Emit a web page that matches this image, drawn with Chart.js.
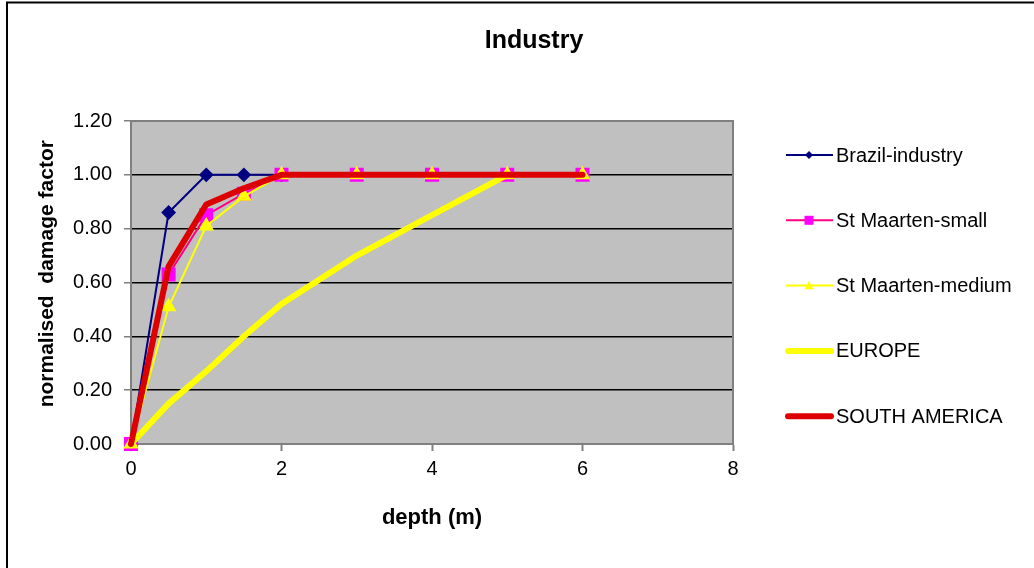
<!DOCTYPE html>
<html>
<head>
<meta charset="utf-8">
<script src="https://cdn.jsdelivr.net/npm/chart.js@4.4.1/dist/chart.umd.min.js"></script>
<style>
  html, body { margin: 0; padding: 0; background: #fff; }
  #wrap { width: 1034px; height: 568px; }
</style>
</head>
<body>
<div id="wrap"><canvas id="industryChart" width="1034" height="568"></canvas></div>
<script>
const chartTitle = 'Industry';
const depth = [0, 0.5, 1, 1.5, 2, 3, 4, 5, 6];
const brazilIndustry  = [0, 0.86, 1.00, 1.00, 1.00, null, null, null, null];
const stMaartenSmall  = [0, 0.63, 0.85, 0.93, 1.00, 1.00, 1.00, 1.00, 1.00];
const stMaartenMedium = [0, 0.51, 0.81, 0.92, 1.00, 1.00, 1.00, 1.00, 1.00];
const europe          = [0, 0.15, 0.27, 0.40, 0.52, 0.70, 0.85, 1.00, null];
const southAmerica    = [0, 0.66, 0.89, 0.95, 1.00, 1.00, 1.00, 1.00, 1.00];

const FONT = '"Liberation Sans", Arial, sans-serif';

const toPoints = vals => vals.map((v, i) => ({ x: depth[i], y: v })).filter(p => p.y !== null);

// little marker painter for the legend
function marker(ctx, style, x, y, r, fill) {
  ctx.save();
  ctx.fillStyle = fill;
  ctx.beginPath();
  if (style === 'rectRot') {
    ctx.moveTo(x, y - r); ctx.lineTo(x + r, y); ctx.lineTo(x, y + r); ctx.lineTo(x - r, y);
  } else if (style === 'rect') {
    ctx.rect(x - r, y - r, 2 * r, 2 * r);
  } else if (style === 'triangle') {
    ctx.moveTo(x, y - r); ctx.lineTo(x + r, y + r * 0.8); ctx.lineTo(x - r, y + r * 0.8);
  }
  ctx.closePath();
  ctx.fill();
  ctx.restore();
}

const excelLook = {
  id: 'excelLook',
  beforeDraw(chart) {
    const { ctx, chartArea: a } = chart;
    ctx.save();
    ctx.fillStyle = '#fff';
    ctx.fillRect(0, 0, chart.width, chart.height);
    ctx.fillStyle = '#C0C0C0';
    ctx.fillRect(a.left, a.top, a.right - a.left, a.bottom - a.top);
    ctx.restore();
  },
  beforeDatasetsDraw(chart) {
    const { ctx, chartArea: a } = chart;
    ctx.save();
    ctx.strokeStyle = '#808080';
    ctx.lineWidth = 2;
    ctx.strokeRect(a.left, a.top, a.right - a.left, a.bottom - a.top);
    ctx.restore();
  },
  afterDraw(chart) {
    const ctx = chart.ctx;
    ctx.save();
    // outer chart border
    ctx.strokeStyle = '#000';
    ctx.lineWidth = 2;
    ctx.beginPath();
    ctx.moveTo(7, chart.height);
    ctx.lineTo(7, 2.5);
    ctx.lineTo(chart.width, 2.5);
    ctx.stroke();

    // title
    ctx.fillStyle = '#000';
    ctx.font = 'bold 25px ' + FONT;
    ctx.textAlign = 'center';
    ctx.textBaseline = 'middle';
    ctx.fillText(chartTitle, 534, 41);

    // legend
    ctx.font = '20px ' + FONT;
    ctx.textAlign = 'left';
    chart.data.datasets.forEach((ds, i) => {
      const y = 155 + i * 65.3;
      ctx.strokeStyle = ds.borderColor;
      ctx.lineWidth = ds.borderWidth;
      ctx.lineCap = ds.borderWidth > 3 ? 'round' : 'butt';
      ctx.beginPath();
      ctx.moveTo(ds.borderWidth > 3 ? 788 : 786, y);
      ctx.lineTo(ds.borderWidth > 3 ? 831 : 833, y);
      ctx.stroke();
      if (ds.pointRadius > 0) {
        marker(ctx, ds.pointStyle, 809, y, ds.legendMarker, ds.pointBackgroundColor);
      }
      ctx.fillStyle = '#000';
      ctx.fillText(ds.label, 836, y + 1);
    });
    ctx.restore();
  }
};

const datasets = [
  {
    label: 'Brazil-industry',
    data: toPoints(brazilIndustry),
    borderColor: '#000080',
    backgroundColor: '#000080',
    pointBackgroundColor: '#000080',
    pointBorderColor: '#000080',
    borderWidth: 2,
    pointStyle: 'rectRot',
    pointRadius: 6,
    legendMarker: 4,
    order: 5
  },
  {
    label: 'St Maarten-small',
    data: toPoints(stMaartenSmall),
    borderColor: '#FF0080',
    backgroundColor: '#FF00FF',
    pointBackgroundColor: '#FF00FF',
    pointBorderColor: '#FF00FF',
    borderWidth: 2,
    pointStyle: 'rect',
    pointRadius: 8.5,
    legendMarker: 4.5,
    order: 4
  },
  {
    label: 'St Maarten-medium',
    data: toPoints(stMaartenMedium),
    borderColor: '#FFFF00',
    backgroundColor: '#FFFF00',
    pointBackgroundColor: '#FFFF00',
    pointBorderColor: '#FFFF00',
    borderWidth: 2,
    pointStyle: 'triangle',
    pointRadius: 7,
    legendMarker: 4.5,
    order: 3
  },
  {
    label: 'EUROPE',
    data: toPoints(europe),
    borderColor: '#FFFF00',
    backgroundColor: '#FFFF00',
    borderWidth: 6,
    pointRadius: 0,
    borderJoinStyle: 'round',
    borderCapStyle: 'round',
    order: 2
  },
  {
    label: 'SOUTH AMERICA',
    data: toPoints(southAmerica),
    borderColor: '#DD0000',
    backgroundColor: '#DD0000',
    borderWidth: 6,
    pointRadius: 0,
    borderJoinStyle: 'round',
    borderCapStyle: 'round',
    order: 1
  }
];
datasets.forEach(d => { d.clip = false; d.tension = 0; d.fill = false; d.pointHoverRadius = d.pointRadius; });

const ctx = document.getElementById('industryChart').getContext('2d');
const industryChart = new Chart(ctx, {
  type: 'line',
  data: { datasets: datasets },
  plugins: [excelLook],
  options: {
    responsive: false,
    animation: false,
    events: [],
    layout: { padding: { top: 121, right: 301, left: 0, bottom: 0 } },
    plugins: {
      legend: { display: false },
      title: { display: false },
      tooltip: { enabled: false }
    },
    scales: {
      x: {
        type: 'linear',
        min: 0,
        max: 8,
        afterFit: s => { s.height = 124; },
        ticks: { stepSize: 2, color: '#000', padding: 6, font: { family: FONT, size: 20 } },
        grid: { drawOnChartArea: false, drawTicks: true, tickLength: 7, tickColor: '#808080', tickWidth: 2 },
        border: { display: true, color: '#808080', width: 2 },
        title: { display: true, text: 'depth (m)', color: '#000', font: { family: FONT, size: 22, weight: 'bold' }, padding: { top: 0, bottom: 37 } }
      },
      y: {
        min: 0,
        max: 1.2,
        afterFit: s => { s.width = 131; },
        ticks: { stepSize: 0.2, color: '#000', padding: 12, font: { family: FONT, size: 20 }, callback: v => v.toFixed(2) },
        grid: {
          color: c => (c.tick && (c.tick.value === 0 || c.tick.value > 1.19)) ? '#808080' : '#000',
          lineWidth: 1.5,
          tickLength: 7,
          tickColor: '#808080'
        },
        border: { display: true, color: '#808080', width: 2 },
        title: { display: true, text: '\u00A0\u00A0\u00A0normalised  damage factor', color: '#000', font: { family: FONT, size: 21, weight: 'bold' }, padding: { top: 35, bottom: 0 } }
      }
    }
  }
});
</script>
</body>
</html>
